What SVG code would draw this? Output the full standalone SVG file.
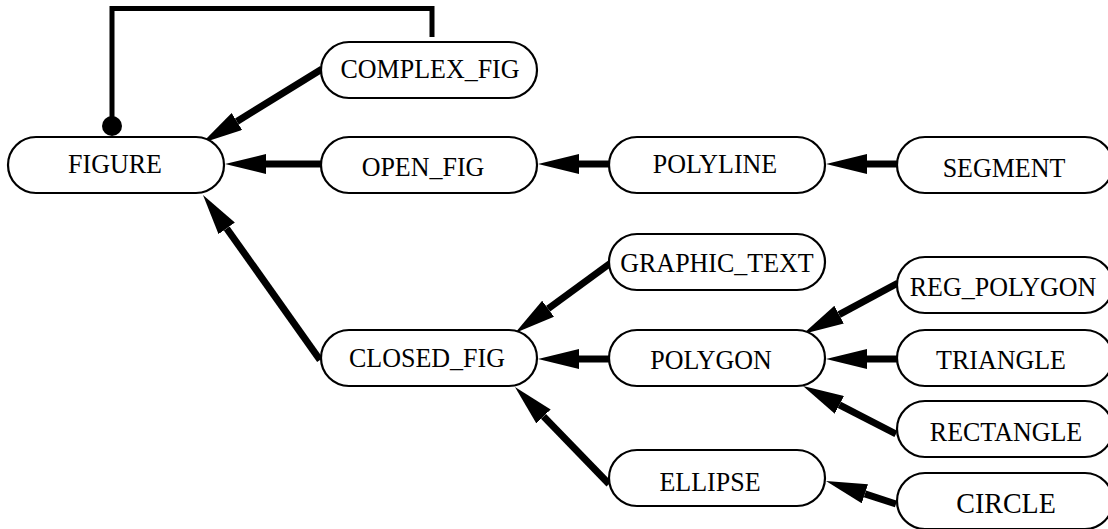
<svg xmlns="http://www.w3.org/2000/svg" width="1108" height="529" viewBox="0 0 1108 529">
<style>
.node rect{fill:#fff;stroke:#000;stroke-width:2.2}
.node text{font-family:"Liberation Serif","Times New Roman",serif;font-size:26px;fill:#000;text-anchor:middle}
.edge{fill:none;stroke:#000;stroke-width:7;marker-end:url(#arr)}
.link{fill:none;stroke:#000;stroke-width:5}
</style>
<defs>
<marker id="arr" viewBox="0 0 41 20" refX="0" refY="10" markerWidth="41" markerHeight="20" markerUnits="userSpaceOnUse" orient="auto">
<path d="M0,0 L41,10 L0,20 z" fill="#000"/>
</marker>
</defs>
<rect width="1108" height="529" fill="#fff"/>
<g id="connectors">
<path class="link" d="M112,126 V8.5 H432 V37"/>
<circle cx="112" cy="126" r="10" fill="#000"/>
<line class="edge" x1="322" y1="69" x2="236.9" y2="121.5"/>
<line class="edge" x1="321" y1="164" x2="266" y2="164"/>
<line class="edge" x1="609" y1="164" x2="579" y2="164"/>
<line class="edge" x1="897" y1="164" x2="867" y2="164"/>
<line class="edge" x1="320" y1="360" x2="226.7" y2="228.4"/>
<line class="edge" x1="612" y1="262" x2="548.1" y2="308.8"/>
<line class="edge" x1="609" y1="359" x2="579" y2="359"/>
<line class="edge" x1="609" y1="484" x2="543.5" y2="416.4"/>
<line class="edge" x1="898" y1="283" x2="839.1" y2="314.6"/>
<line class="edge" x1="897" y1="359" x2="867" y2="359"/>
<line class="edge" x1="896" y1="434" x2="839.4" y2="404.8"/>
<line class="edge" x1="896" y1="504" x2="864.9" y2="493.8"/>
</g>
<g id="FIGURE" class="node"><rect x="8" y="137" width="216" height="56" rx="28"/><text transform="translate(115,173) scale(1,1.08)">FIGURE</text></g>
<g id="COMPLEX_FIG" class="node"><rect x="321" y="42" width="216" height="56" rx="28"/><text transform="translate(430,78) scale(1,1.08)">COMPLEX_FIG</text></g>
<g id="OPEN_FIG" class="node"><rect x="321" y="137" width="216" height="56" rx="28"/><text transform="translate(423,176) scale(1,1.08)">OPEN_FIG</text></g>
<g id="POLYLINE" class="node"><rect x="609" y="137" width="216" height="56" rx="28"/><text transform="translate(715,173) scale(1,1.08)">POLYLINE</text></g>
<g id="SEGMENT" class="node"><rect x="897" y="137" width="216" height="56" rx="28"/><text transform="translate(1004,177) scale(1,1.08)">SEGMENT</text></g>
<g id="GRAPHIC_TEXT" class="node"><rect x="609" y="234" width="216" height="56" rx="28"/><text transform="translate(717,272) scale(1,1.08)">GRAPHIC_TEXT</text></g>
<g id="REG_POLYGON" class="node"><rect x="897" y="257" width="216" height="56" rx="28"/><text transform="translate(1003,296) scale(1,1.08)">REG_POLYGON</text></g>
<g id="CLOSED_FIG" class="node"><rect x="321" y="330" width="216" height="56" rx="28"/><text transform="translate(427,367) scale(1,1.08)">CLOSED_FIG</text></g>
<g id="POLYGON" class="node"><rect x="609" y="330" width="216" height="56" rx="28"/><text transform="translate(711,369) scale(1,1.08)">POLYGON</text></g>
<g id="TRIANGLE" class="node"><rect x="897" y="330" width="216" height="56" rx="28"/><text transform="translate(1001,369) scale(1,1.08)">TRIANGLE</text></g>
<g id="RECTANGLE" class="node"><rect x="897" y="401" width="216" height="56" rx="28"/><text transform="translate(1006,441) scale(1,1.08)">RECTANGLE</text></g>
<g id="ELLIPSE" class="node"><rect x="609" y="450" width="216" height="56" rx="28"/><text transform="translate(710,491) scale(1,1.08)">ELLIPSE</text></g>
<g id="CIRCLE" class="node"><rect x="897" y="473" width="216" height="56" rx="28"/><text transform="translate(1006,513) scale(1,1.08)" style="font-size:28px">CIRCLE</text></g>
</svg>
